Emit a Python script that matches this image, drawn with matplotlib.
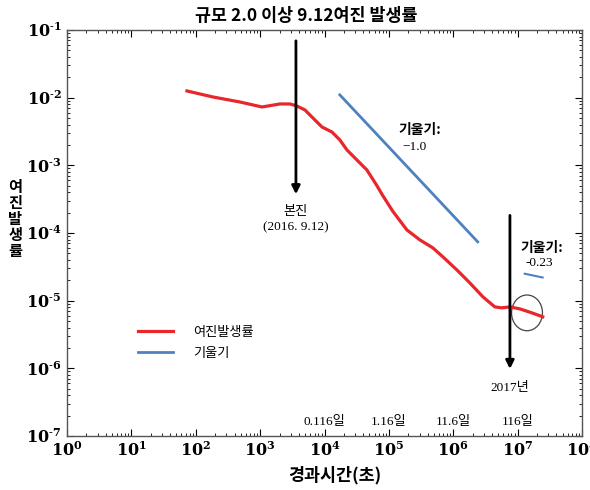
import numpy as np
import matplotlib
matplotlib.use('Agg')
from matplotlib import pyplot as plt
from matplotlib.patches import Ellipse
from matplotlib.ticker import FuncFormatter, LogLocator

plt.rcParams['font.family'] = ['Noto Sans CJK KR', 'DejaVu Sans']
plt.rcParams['mathtext.fontset'] = 'dejavuserif'

# aftershock rate
elapsed_s = [73, 185, 485, 1067, 2028, 2904, 3724, 4966, 6607, 9120, 13030,
             17340, 22280, 31840, 45500, 65160, 80720, 115300, 190500, 302700,
             481900, 690200, 1.138e6, 1.811e6, 2.884e6, 4.426e6, 5.689e6,
             7.568e6, 1.081e7, 1.66e7, 2.46e7]
rate = [0.01256, 0.01023, 0.00863, 0.00728, 0.00807, 0.00807, 0.00753, 0.00658,
        0.00501, 0.00369, 0.00311, 0.00237, 0.00169, 0.00120, 8.55e-4, 5.01e-4,
        3.55e-4, 2.09e-4, 1.11e-4, 7.91e-5, 6.03e-5, 4.44e-5, 2.85e-5, 1.83e-5,
        1.14e-5, 8.09e-6, 7.83e-6, 8.09e-6, 7.57e-6, 6.61e-6, 5.77e-6]

# slope guide lines
slope1_x = [1.73e4, 2.4e6]
slope1_y = [1.1e-2, 7.4e-5]
slope2_x = [1.29e7, 2.45e7]
slope2_y = [2.5e-5, 2.2e-5]

day_labels = ['0.116일', '1.16일', '11.6일', '116일']
day_pos = [1e4, 1e5, 1e6, 1e7]

mainshock_t = 3600
year2017_t = 7.6e6

red = '#e8262b'
blue = '#4f81bd'
serif = ['Liberation Serif', 'Noto Sans CJK KR']

fig = plt.figure(figsize=(5.9, 4.9), dpi=100)
ax = fig.add_axes([0.1136, 0.1102, 0.8728, 0.8286])
ax.set_xscale('log')
ax.set_yscale('log')
ax.set_xlim(1, 1e8)
ax.set_ylim(1e-7, 1e-1)

ax.plot(elapsed_s, rate, color=red, lw=2.3, label='여진발생률')
ax.plot(slope1_x, slope1_y, color=blue, lw=2, label='기울기')
ax.plot(slope2_x, slope2_y, color=blue, lw=1.5)

# arrows
ax.annotate('', xy=(mainshock_t, 3.4e-4), xytext=(mainshock_t, 0.076),
            arrowprops=dict(arrowstyle='-|>', color='black', lw=2, mutation_scale=12))
ax.annotate('', xy=(year2017_t, 8.9e-7), xytext=(year2017_t, 2.0e-4),
            arrowprops=dict(arrowstyle='-|>', color='black', lw=2, mutation_scale=12))

# circle around the tail
cx, cy = (ax.transScale + ax.transLimits).transform((1.4e7, 6.6e-6))
ax.add_patch(Ellipse((cx, cy), 0.06, 0.088, transform=ax.transAxes,
                     fill=False, ec='#444444', lw=0.9))

ax.text(mainshock_t, 2.05e-4, '본진', ha='center', va='center', fontsize=9.5)
ax.text(mainshock_t, 1.2e-4, '(2016. 9.12)', ha='center', va='center',
        fontsize=9.5, family=serif)
ax.text(3.0e5, 3.3e-3, '기울기:', ha='center', va='center', fontsize=10, weight='bold')
ax.text(2.5e5, 1.86e-3, '\u22121.0', ha='center', va='center', fontsize=9.5, family=serif)
ax.text(2.4e7, 6.0e-5, '기울기:', ha='center', va='center', fontsize=10, weight='bold')
ax.text(2.2e7, 3.6e-5, '-0.23', ha='center', va='center', fontsize=9.5, family=serif)
ax.text(year2017_t, 5.1e-7, '2017년', ha='center', va='center', fontsize=9.5, family=serif)
for lab, xp in zip(day_labels, day_pos):
    ax.text(xp, 1.6e-7, lab, ha='center', va='center', fontsize=9.5, family=serif)


def exp_label(v, p):
    e = int(round(np.log10(v)))
    if e < 0:
        return r'$\mathbf{10^{\text{-}%d}}$' % (-e)
    return r'$\mathbf{10^{%d}}$' % e


ax.tick_params(which='both', direction='in', top=True, right=True)
ax.tick_params(which='major', length=5, labelsize=11.5, pad=4)
ax.tick_params(which='minor', length=2.5)
for axis in (ax.xaxis, ax.yaxis):
    axis.set_major_locator(LogLocator(numticks=20))
    axis.set_minor_locator(LogLocator(subs=np.arange(2, 10), numticks=20))
    axis.set_major_formatter(FuncFormatter(exp_label))
for s in ax.spines.values():
    s.set_color('#555555')
    s.set_linewidth(1)

leg = ax.legend(loc='upper left', bbox_to_anchor=(0.115, 0.30), frameon=False,
                fontsize=9.5, handlelength=2.65, handletextpad=1.5, labelspacing=0.6)

fig.text(0.519, 0.968, '규모 2.0 이상 9.12여진 발생률', ha='center', va='center',
         fontsize=12.5, weight='bold')
fig.text(0.568, 0.031, '경과시간(초)', ha='center', va='center',
         fontsize=12.5, weight='bold')
for i, ch in enumerate('여진발생률'):
    fig.text(0.026, 1 - (187 + 16 * i) / 490, ch, ha='center', va='center',
             fontsize=11, weight='bold')

fig.savefig('out.png', dpi=100)
